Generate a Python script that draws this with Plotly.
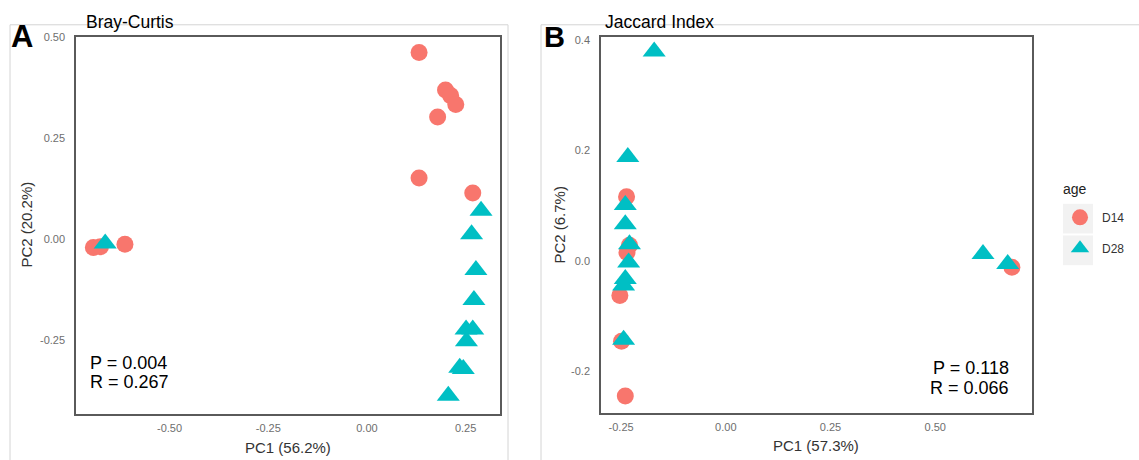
import plotly.graph_objects as go

W, H = 1139, 460

# ---------------- data ----------------
# Panel A: Bray-Curtis PCoA
bc_d14_pc1 = [0.132, 0.199, 0.212, 0.225, 0.179, 0.132, 0.268, -0.693, -0.675, -0.613]
bc_d14_pc2 = [0.463, 0.370, 0.356, 0.334, 0.303, 0.152, 0.115, -0.020, -0.018, -0.012]
bc_d28_pc1 = [0.289, 0.265, 0.276, 0.271, 0.251, 0.268, 0.252, 0.235, 0.244, 0.206, -0.663]
bc_d28_pc2 = [0.071, 0.013, -0.076, -0.150, -0.223, -0.223, -0.252, -0.318, -0.321, -0.387, -0.010]

# Panel B: Jaccard PCoA
jc_d14_pc1 = [-0.237, -0.230, -0.236, -0.253, -0.249, -0.240, 0.683]
jc_d14_pc2 = [0.116, 0.028, 0.015, -0.063, -0.146, -0.245, -0.012]
jc_d28_pc1 = [-0.171, -0.234, -0.240, -0.240, -0.230, -0.232, -0.240, -0.244, -0.244, 0.614, 0.673]
jc_d28_pc2 = [0.379, 0.188, 0.101, 0.066, 0.030, -0.003, -0.033, -0.045, -0.143, 0.012, -0.006]

groups = ["D14", "D28"]
colors = {"D14": "#F8766D", "D28": "#00BFC4"}
symbols = {"D14": "circle", "D28": "triangle-up"}
sizes = {"D14": 17, "D28": 20}

a_xticks = [-0.50, -0.25, 0.00, 0.25]
a_yticks = [-0.25, 0.00, 0.25, 0.50]
b_xticks = [-0.25, 0.00, 0.25, 0.50]
b_yticks = [-0.2, 0.0, 0.2, 0.4]

panel_titles = ["Bray-Curtis", "Jaccard Index"]
x_titles = ["PC1 (56.2%)", "PC1 (57.3%)"]
y_titles = ["PC2 (20.2%)", "PC2 (6.7%)"]
stats_a = ["P = 0.004", "R = 0.267"]
stats_b = ["P = 0.118", "R = 0.066"]
legend_title = "age"

FONT = "Liberation Sans, Arial, Helvetica, sans-serif"

def px(x):
    return x / W

def py(y):
    return 1 - y / H

fig = go.Figure()

series = [
    ("x", "y", {"D14": (bc_d14_pc1, bc_d14_pc2), "D28": (bc_d28_pc1, bc_d28_pc2)}, True),
    ("x2", "y2", {"D14": (jc_d14_pc1, jc_d14_pc2), "D28": (jc_d28_pc1, jc_d28_pc2)}, False),
]
for xa, ya, data, show in series:
    for g in groups:
        xs, ys = data[g]
        fig.add_trace(go.Scatter(
            x=xs, y=ys, mode="markers", name=g, legendgroup=g, showlegend=show,
            xaxis=xa, yaxis=ya,
            marker=dict(color=colors[g], symbol=symbols[g], size=sizes[g], line=dict(width=0)),
            hoverinfo="x+y+name",
        ))

axis_common = dict(showgrid=False, zeroline=False, showline=True, mirror=True,
                   linecolor="#5a5a5a", linewidth=1.5, ticks="",
                   tickfont=dict(family=FONT, size=11, color="#6e6e6e"))

fig.update_layout(
    width=W, height=H,
    margin=dict(l=0, r=0, t=0, b=0),
    paper_bgcolor="white", plot_bgcolor="white",
    font=dict(family=FONT),
    xaxis=dict(domain=[px(76), px(500)], range=[-0.737, 0.337], anchor="y", ticklabelstandoff=4,
               tickvals=a_xticks, ticktext=["%.2f" % v for v in a_xticks], **axis_common),
    yaxis=dict(domain=[py(413), py(32)], range=[-0.431, 0.502], anchor="x", ticklabelstandoff=7,
               tickvals=a_yticks, ticktext=["%.2f" % v for v in a_yticks], **axis_common),
    xaxis2=dict(domain=[px(601), px(1032)], range=[-0.298, 0.731], anchor="y2", ticklabelstandoff=4,
                tickvals=b_xticks, ticktext=["%.2f" % v for v in b_xticks], **axis_common),
    yaxis2=dict(domain=[py(412), py(32)], range=[-0.275, 0.406], anchor="x2", ticklabelstandoff=7,
                tickvals=b_yticks, ticktext=["%.1f" % v for v in b_yticks], **axis_common),
    legend=dict(font=dict(family=FONT, size=12, color="#333"),
                x=px(1058), y=py(200), xanchor="left", yanchor="top",
                bgcolor="rgba(0,0,0,0)", tracegroupgap=12, itemsizing="trace", itemwidth=34),
    showlegend=True,
)

# outer panel frames (light grey)
shapes = [
    dict(type="rect", xref="paper", yref="paper", x0=px(10), x1=px(508), y0=py(470), y1=py(20),
         line=dict(color="#d4d4d4", width=1), layer="below"),
    dict(type="rect", xref="paper", yref="paper", x0=px(541), x1=px(1150), y0=py(470), y1=py(20),
         line=dict(color="#d4d4d4", width=1), layer="below"),
    # legend key backgrounds
    dict(type="rect", xref="paper", yref="paper", x0=px(1063), x1=px(1093), y0=py(231), y1=py(201),
         fillcolor="#f2f2f2", line=dict(width=0), layer="below"),
    dict(type="rect", xref="paper", yref="paper", x0=px(1063), x1=px(1093), y0=py(263), y1=py(233),
         fillcolor="#f2f2f2", line=dict(width=0), layer="below"),
]
fig.update_layout(shapes=shapes)

ann = []
# panel letters
ann.append(dict(text="<b>A</b>", x=px(9), y=py(32), xanchor="left", yanchor="middle",
                font=dict(family=FONT, size=31, color="black")))
ann.append(dict(text="<b>B</b>", x=px(542), y=py(32), xanchor="left", yanchor="middle",
                font=dict(family=FONT, size=29, color="black")))
# panel titles
ann.append(dict(text=panel_titles[0], x=px(84), y=py(17), xanchor="left", yanchor="middle",
                font=dict(family=FONT, size=17.5, color="black")))
ann.append(dict(text=panel_titles[1], x=px(603), y=py(17), xanchor="left", yanchor="middle",
                font=dict(family=FONT, size=17.5, color="black")))
# axis titles
ann.append(dict(text=x_titles[0], x=px(288), y=py(447), xanchor="center", yanchor="middle",
                font=dict(family=FONT, size=15, color="#333")))
ann.append(dict(text=x_titles[1], x=px(816), y=py(445), xanchor="center", yanchor="middle",
                font=dict(family=FONT, size=15, color="#333")))
ann.append(dict(text=y_titles[0], x=px(27), y=py(222), xanchor="center", yanchor="middle",
                textangle=-90, font=dict(family=FONT, size=15, color="#333")))
ann.append(dict(text=y_titles[1], x=px(560), y=py(222), xanchor="center", yanchor="middle",
                textangle=-90, font=dict(family=FONT, size=15, color="#333")))
# stats
ann.append(dict(text=stats_a[0], x=px(88), y=py(362), xanchor="left", yanchor="middle",
                font=dict(family=FONT, size=18, color="black")))
ann.append(dict(text=stats_a[1], x=px(88), y=py(381), xanchor="left", yanchor="middle",
                font=dict(family=FONT, size=18, color="black")))
ann.append(dict(text=stats_b[0], x=px(1011), y=py(367), xanchor="right", yanchor="middle",
                font=dict(family=FONT, size=18, color="black")))
ann.append(dict(text=stats_b[1], x=px(1011), y=py(387), xanchor="right", yanchor="middle",
                font=dict(family=FONT, size=18, color="black")))
# legend title
ann.append(dict(text=legend_title, x=px(1061), y=py(186), xanchor="left", yanchor="middle",
                font=dict(family=FONT, size=14, color="#222")))
for a in ann:
    a.update(xref="paper", yref="paper", showarrow=False)
fig.update_layout(annotations=ann)

fig.write_html("out.html")
